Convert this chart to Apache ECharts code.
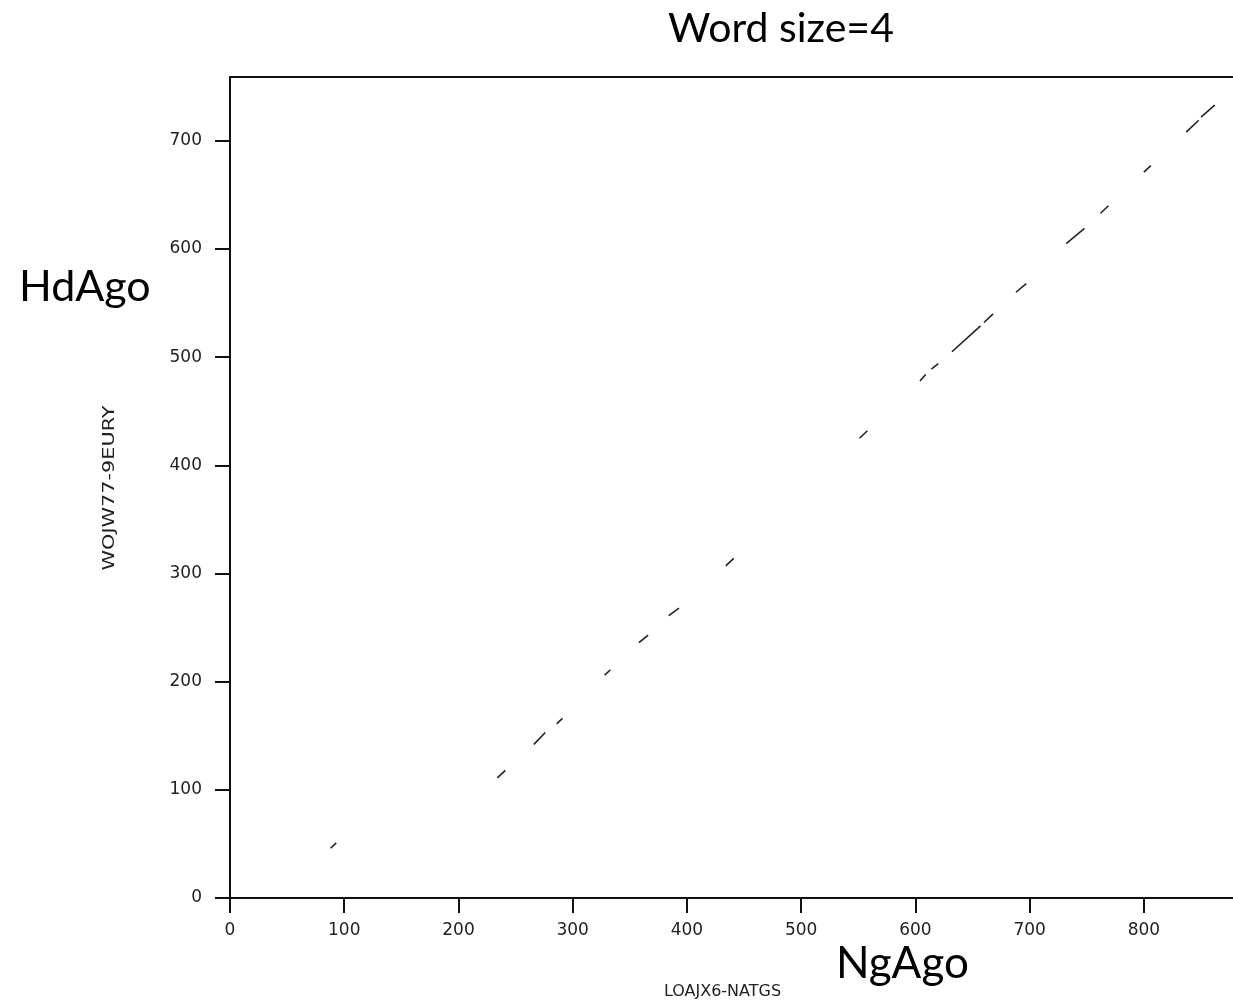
<!DOCTYPE html>
<html>
<head>
<meta charset="utf-8">
<script src="https://cdn.jsdelivr.net/npm/echarts@6/dist/echarts.min.js"></script>
<style>
html, body { margin: 0; padding: 0; background: #fff; }
#chart { width: 1233px; height: 1005px; }
</style>
</head>
<body>
<div id="chart"></div>
<script>
// dot plot segments: [x1, y1, x2, y2] (NgAgo position, HdAgo position)
var segments = [
	[88, 46, 93, 51],
	[234, 111, 241, 118],
	[266, 142, 276, 153],
	[286, 161, 291, 166],
	[328, 206, 333, 211],
	[358, 236, 366, 243],
	[384, 261, 393, 268],
	[434, 307, 441, 314],
	[551, 425, 558, 432],
	[604, 478, 609, 484],
	[614, 489, 620, 494],
	[632, 505, 657, 529],
	[660, 532, 668, 540],
	[688, 560, 697, 568],
	[732, 605, 748, 619],
	[762, 633, 769, 640],
	[800, 671, 806, 677],
	[837, 708, 848, 719],
	[850, 722, 862, 733]
];
var xTicks = [0, 100, 200, 300, 400, 500, 600, 700, 800];
var yTicks = [0, 100, 200, 300, 400, 500, 600, 700];
var xMax = 878;
var yMax = 759;

var tickFont = 'DejaVu Sans';
var calibriLike = 'Lato';

var myChart = echarts.init(document.getElementById('chart'));
var option = {
	animation: false,
	backgroundColor: '#fff',
	grid: {
		left: 230,
		right: 0,
		top: 77,
		bottom: 103
	},
	xAxis: [{
		type: 'value',
		min: 0,
		max: xMax,
		interval: 100,
		name: 'LOAJX6-NATGS',
		nameLocation: 'middle',
		nameGap: 86,
		nameTextStyle: { fontFamily: tickFont, fontSize: 16, color: '#222', padding: [0, 18, 0, 0] },
		axisLine: { show: true, onZero: false, lineStyle: { color: '#111', width: 2 } },
		axisTick: { show: true, length: 15, lineStyle: { color: '#111', width: 2 } },
		axisLabel: {
			margin: 24,
			fontFamily: tickFont,
			fontSize: 17,
			color: '#222',
			showMaxLabel: false,
			formatter: function (v) { return xTicks.indexOf(v) >= 0 ? String(v) : ''; }
		},
		splitLine: { show: false }
	}, {
		type: 'value',
		position: 'top',
		min: 0,
		max: xMax,
		axisLine: { show: true, onZero: false, lineStyle: { color: '#111', width: 2 } },
		axisTick: { show: false },
		axisLabel: { show: false },
		splitLine: { show: false }
	}],
	yAxis: {
		type: 'value',
		min: 0,
		max: yMax,
		interval: 100,
		axisLine: { show: true, onZero: false, lineStyle: { color: '#111', width: 2 } },
		axisTick: { show: true, length: 15, lineStyle: { color: '#111', width: 2 } },
		axisLabel: {
			margin: 28,
			fontFamily: tickFont,
			fontSize: 17,
			color: '#222',
			showMaxLabel: false,
			formatter: function (v) { return yTicks.indexOf(v) >= 0 ? String(v) : ''; }
		},
		splitLine: { show: false }
	},
	graphic: [{
		type: 'text',
		left: 668,
		top: 8,
		style: { text: 'Word size=4', font: '41px ' + calibriLike, fill: '#000' }
	}, {
		type: 'text',
		left: 19,
		top: 266,
		style: { text: 'HdAgo', font: '43px ' + calibriLike, fill: '#000' }
	}, {
		type: 'text',
		left: 836,
		top: 942,
		style: { text: 'NgAgo', font: '44px ' + calibriLike, fill: '#000' }
	}, {
		type: 'text',
		x: 110,
		y: 488,
		rotation: Math.PI / 2,
		scaleX: 1.3,
		style: {
			text: 'WOJW77-9EURY',
			font: '16px ' + tickFont,
			fill: '#222',
			align: 'center',
			verticalAlign: 'middle'
		}
	}],
	series: [{
		type: 'lines',
		coordinateSystem: 'cartesian2d',
		polyline: false,
		silent: true,
		lineStyle: { color: '#222', width: 1.6, opacity: 1 },
		data: segments.map(function (s) {
			return { coords: [[s[0], s[1]], [s[2], s[3]]] };
		})
	}]
};
myChart.setOption(option);
window.addEventListener('resize', function () {
	myChart.resize();
}, false);
</script>
</body>
</html>
